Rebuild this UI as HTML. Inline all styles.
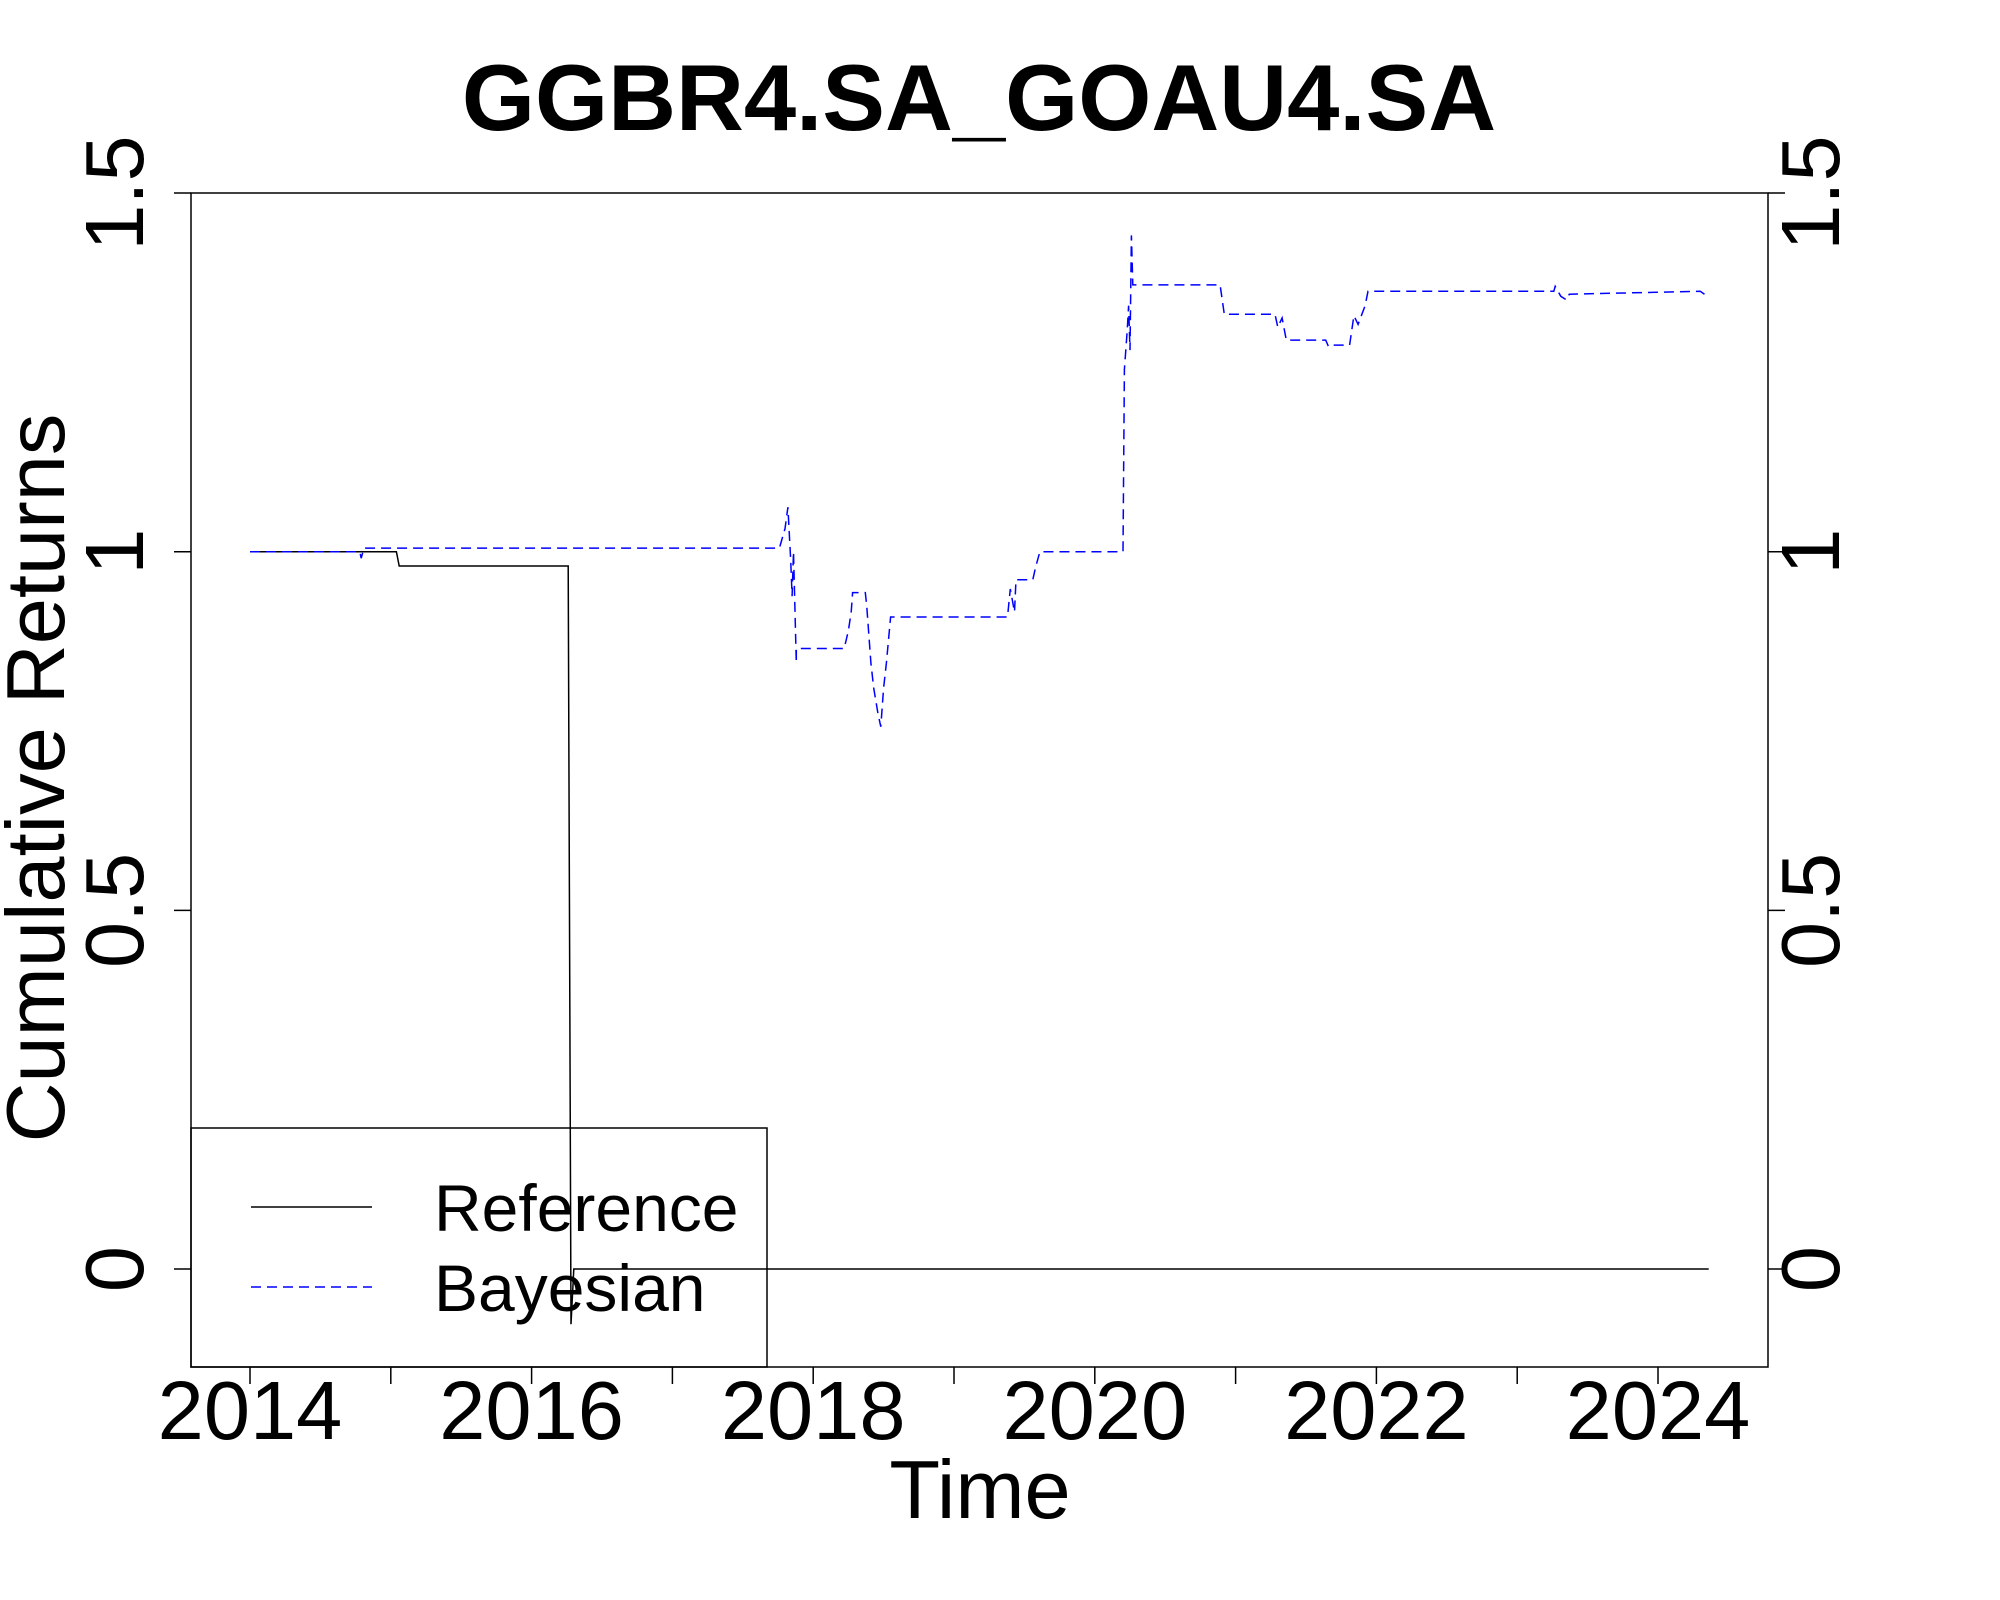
<!DOCTYPE html>
<html><head><meta charset="utf-8"><style>html,body{margin:0;padding:0;background:#fff}svg{display:block}text{font-family:"Liberation Sans",sans-serif}</style></head>
<body>
<svg id="chart" width="2000" height="1600" viewBox="0 0 2000 1600" xmlns="http://www.w3.org/2000/svg">
<text x="979" y="130" font-size="94" font-weight="bold" text-anchor="middle">GGBR4.SA_GOAU4.SA</text>
<rect x="191" y="193" width="1577" height="1174" fill="none" stroke="#000" stroke-width="1.5"/>
<g id="xaxis"></g>
<g id="yaxis"></g>
<text x="980" y="1518" font-size="83" text-anchor="middle">Time</text>
<text transform="translate(64,778) rotate(-90)" font-size="83" text-anchor="middle">Cumulative Returns</text>
<g id="series"></g>
<g>
<rect x="191" y="1128" width="576" height="239" fill="none" stroke="#000" stroke-width="1.5"/>
<line x1="251" y1="1207" x2="372" y2="1207" stroke="#000" stroke-width="1.5"/>
<text x="434" y="1231" font-size="66">Reference</text>
<line x1="251" y1="1287" x2="372" y2="1287" stroke="#0000ff" stroke-width="1.5" stroke-dasharray="10,6"/>
<text x="434" y="1311" font-size="66">Bayesian</text>
</g>
</svg>
<script>
const xTicks = [2014,2015,2016,2017,2018,2019,2020,2021,2022,2023,2024];
const xTickLabels = ["2014","","2016","","2018","","2020","","2022","","2024"];
const yTicks = [0,0.5,1,1.5];
const yTickLabels = ["0","0.5","1","1.5"];
const refYears = [2014.00,2015.04,2015.06,2016.26,2016.28,2016.30,2024.36];
const refValues = [1.0,1.0,0.98,0.98,-0.077,0,0];
const bayYears = [2014.00,2014.78,2014.79,2014.81,2017.76,2017.80,2017.82,2017.84,2017.85,2017.86,2017.88,2017.88,2018.22,2018.25,2018.27,2018.28,2018.37,2018.38,2018.41,2018.43,2018.46,2018.48,2018.50,2018.52,2018.55,2019.38,2019.40,2019.43,2019.44,2019.56,2019.58,2019.61,2020.20,2020.21,2020.23,2020.24,2020.25,2020.26,2020.27,2020.89,2020.92,2021.28,2021.30,2021.33,2021.36,2021.64,2021.66,2021.69,2021.81,2021.84,2021.87,2021.92,2021.94,2023.26,2023.27,2023.31,2023.35,2023.37,2024.30,2024.33];
const bayValues = [1.0,1.0,0.991,1.005,1.005,1.032,1.062,0.988,0.938,1.0,0.845,0.865,0.865,0.890,0.916,0.943,0.943,0.925,0.845,0.810,0.774,0.756,0.810,0.845,0.909,0.909,0.948,0.916,0.961,0.961,0.979,1.0,1.0,1.254,1.308,1.343,1.281,1.441,1.372,1.372,1.331,1.331,1.313,1.326,1.295,1.295,1.286,1.288,1.288,1.329,1.317,1.343,1.363,1.363,1.370,1.356,1.351,1.359,1.363,1.359];

const NS = "http://www.w3.org/2000/svg";
function xs(v){ return 250 + (v-2014)*140.8; }
function ys(v){ return 1269 - v*717.3; }
const xa = document.getElementById('xaxis'), ya = document.getElementById('yaxis'), sg = document.getElementById('series');
function mk(tag, attrs, parent){ const e=document.createElementNS(NS,tag); for(const k in attrs) e.setAttribute(k,attrs[k]); parent.appendChild(e); return e; }
xTicks.forEach((t,i)=>{
  const l = mk('line',{x1:xs(t),x2:xs(t),y1:1367,y2:1384,stroke:'#000','stroke-width':1.5},xa);
  
  
  if(xTickLabels[i]){
    const tx = mk('text',{x:xs(t),y:1439,'font-size':83,'text-anchor':'middle'},xa);
    tx.textContent = xTickLabels[i];
    
    
  }
});
yTicks.forEach((t,i)=>{
  const y = ys(t);
  const l1 = mk('line',{x1:174,x2:191,y1:y,y2:y,stroke:'#000','stroke-width':1.5},ya);
  
  
  const l2 = mk('line',{x1:1768,x2:1785,y1:y,y2:y,stroke:'#000','stroke-width':1.5},ya);
  
  
  const t1 = mk('text',{transform:`translate(143,${y}) rotate(-90)`,'font-size':83,'text-anchor':'middle'},ya);
  t1.textContent = yTickLabels[i];
  
  
  const t2 = mk('text',{transform:`translate(1839,${y}) rotate(-90)`,'font-size':83,'text-anchor':'middle'},ya);
  t2.textContent = yTickLabels[i];
  
  
});
function pts(xv,yv){ return xv.map((x,i)=>xs(x).toFixed(1)+','+ys(yv[i]).toFixed(1)).join(' '); }
const ref = mk('polyline',{points:pts(refYears,refValues),fill:'none',stroke:'#000','stroke-width':1.5},sg);


const bay = mk('polyline',{points:pts(bayYears,bayValues),fill:'none',stroke:'#0000ff','stroke-width':1.5,'stroke-dasharray':'10,6'},sg);


</script>
</body></html>
